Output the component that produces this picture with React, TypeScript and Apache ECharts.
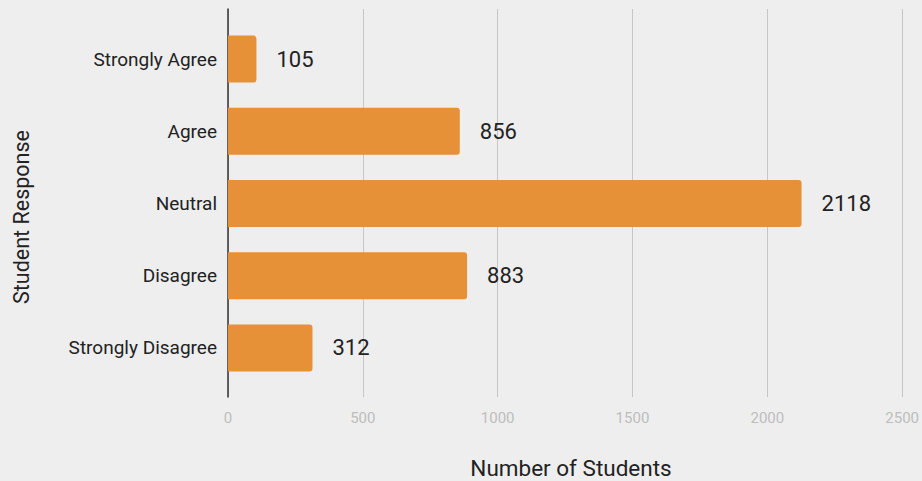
import React, { useEffect, useRef } from "react";
import * as echarts from "echarts";

const categories = ["Strongly Agree", "Agree", "Neutral", "Disagree", "Strongly Disagree"];
const studentCounts = [105, 856, 2118, 883, 312];
const xTitle = "Number of Students";
const yTitle = "Student Response";

export default function App() {
  const ref = useRef<HTMLDivElement>(null);
  useEffect(() => {
    if (!ref.current) return;
    const chart = echarts.init(ref.current, undefined, { renderer: "svg" });
    const font = "Roboto, 'Noto Sans', Arial, sans-serif";
    chart.setOption({
      animation: false,
      backgroundColor: "#eeeeee",
      textStyle: { fontFamily: font },
      grid: [
        { left: 228, right: 17, top: 9, bottom: 84, containLabel: false },
        { left: 228, right: 17, top: 23, bottom: 97, containLabel: false },
      ],
      xAxis: [
        {
          type: "value",
          gridIndex: 0,
          min: 0,
          max: 2500,
          interval: 500,
          axisLine: { show: false },
          axisTick: { show: false },
          splitLine: { show: true, lineStyle: { color: "#c6c6c6", width: 1 } },
          axisLabel: {
            color: "#bdbdbd",
            fontSize: 15,
            margin: 13,
            fontFamily: font,
            formatter: (v: number) => String(v),
          },
        },
        {
          type: "value",
          gridIndex: 1,
          min: 0,
          max: 2500,
          show: false,
        },
      ],
      yAxis: [
        {
          type: "value",
          gridIndex: 0,
          min: 0,
          max: 1,
          axisLine: { show: true, lineStyle: { color: "#333333", width: 1.5 } },
          axisTick: { show: false },
          axisLabel: { show: false },
          splitLine: { show: false },
        },
        {
          type: "category",
          gridIndex: 1,
          inverse: true,
          data: categories,
          axisLine: { show: false },
          axisTick: { show: false },
          splitLine: { show: false },
          axisLabel: { color: "#222222", fontSize: 19, margin: 11, fontFamily: font },
        },
      ],
      series: [
        {
          type: "bar",
          xAxisIndex: 1,
          yAxisIndex: 1,
          data: studentCounts,
          barWidth: 47,
          itemStyle: { color: "#e69138", borderRadius: [0, 3, 3, 0] },
          label: {
            show: true,
            position: "right",
            distance: 20,
            color: "#222222",
            fontSize: 22,
            fontFamily: font,
          },
        },
      ],
      graphic: [
        {
          type: "text",
          x: 571,
          y: 468,
          style: {
            text: xTitle,
            fontSize: 22.5,
            fontFamily: font,
            fill: "#222222",
            textAlign: "center",
            textVerticalAlign: "middle",
          },
        },
        {
          type: "text",
          x: 21,
          y: 217,
          rotation: Math.PI / 2,
          style: {
            text: yTitle,
            fontSize: 21.5,
            fontFamily: font,
            fill: "#222222",
            textAlign: "center",
            textVerticalAlign: "middle",
          },
        },
      ],
    });
    return () => chart.dispose();
  }, []);
  return (
    <div
      ref={ref}
      style={{ position: "fixed", left: 0, top: 0, width: 922, height: 481 }}
    />
  );
}
